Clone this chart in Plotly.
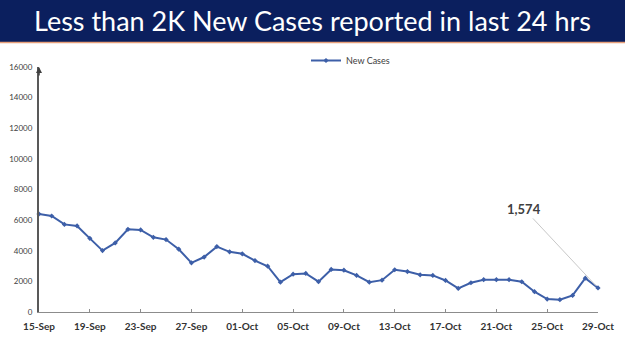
import plotly.graph_objects as go
import pandas as pd

# ---- data ----
dates = pd.date_range("2020-09-15", "2020-10-29", freq="D")
new_cases = [6400, 6270, 5720, 5620, 4810, 4010, 4510, 5400, 5360, 4880,
             4730, 4100, 3210, 3590, 4270, 3930, 3800, 3360, 2990, 1950,
             2470, 2520, 1980, 2780, 2730, 2390, 1950, 2080, 2760, 2640,
             2430, 2390, 2060, 1540, 1910, 2110, 2110, 2110, 1975, 1325,
             845, 805, 1085, 2210, 1574]
tick_dates = pd.date_range("2020-09-15", "2020-10-29", freq="4D")
title_text = "Less than 2K New Cases reported in last 24 hrs"
series_name = "New Cases"
callout_text = "1,574"

W, H = 625, 351
L, R, T, B = 39, 27, 67, 39
pw, ph = W - L - R, H - T - B

def px_x(p):
    return (p - L) / pw

def px_y(p):
    return (H - B - p) / ph

fig = go.Figure()
fig.add_trace(go.Scatter(
    x=dates, y=new_cases, mode="lines+markers", name=series_name,
    line=dict(color="#3d5fa8", width=2),
    marker=dict(symbol="diamond", size=4, color="#3d5fa8"),
    cliponaxis=False,
))

# banner
fig.add_shape(type="rect", xref="paper", yref="paper",
              x0=px_x(0), x1=px_x(W), y0=px_y(42), y1=px_y(0),
              fillcolor="#0b1f5e", line=dict(width=0), layer="above")
fig.add_shape(type="line", xref="paper", yref="paper",
              x0=px_x(0), x1=px_x(W), y0=px_y(42.5), y1=px_y(42.5),
              line=dict(color="#e8a07a", width=1.5))
fig.add_annotation(text=title_text, xref="paper", yref="paper",
                   x=px_x(312), y=px_y(21), showarrow=False,
                   xanchor="center", yanchor="middle",
                   font=dict(family="Lato", size=27, color="white"))

# y-axis arrow head
fig.add_annotation(x=0, xref="paper", y=16000, yref="y", text="",
                   showarrow=True, ax=0, ay=10, arrowhead=2, arrowsize=0.8,
                   arrowwidth=1.5, arrowcolor="#404040")

# callout
fig.add_annotation(x=dates[-1], y=new_cases[-1], text="<b>" + callout_text + "</b>",
                   showarrow=True, ax=-74, ay=-79, arrowhead=0, arrowwidth=1,
                   arrowcolor="#c8c8c8", standoff=3,
                   font=dict(family="Lato", size=13, color="#404040"))

fig.update_layout(
    width=W, height=H,
    margin=dict(l=L, r=R, t=T, b=B, autoexpand=False),
    paper_bgcolor="white", plot_bgcolor="white",
    showlegend=True,
    legend=dict(orientation="h", x=px_x(306), y=px_y(46), xanchor="left", yanchor="top",
                font=dict(family="Lato", size=9, color="#404040"),
                itemwidth=30, bgcolor="rgba(0,0,0,0)"),
    font=dict(family="Lato"),
)
fig.update_xaxes(
    range=[dates[0], dates[-1]], tickvals=tick_dates, tickformat="%d-%b",
    showline=True, linecolor="#8c8c8c", linewidth=1, automargin=False,
    ticks="inside", ticklen=3, tickcolor="#8c8c8c",
    showgrid=False, zeroline=False, ticklabelstandoff=5,
    tickfont=dict(family="Lato", size=10, color="#333333", weight="bold"),
)
fig.update_yaxes(
    range=[0, 16000], dtick=2000, tickformat="d", showline=True,
    linecolor="#595959", linewidth=2, automargin=False,
    showgrid=False, zeroline=False, ticks="", ticklabelstandoff=3,
    tickfont=dict(family="Lato", size=8, color="#404040"),
)

fig.write_html("out.html")
